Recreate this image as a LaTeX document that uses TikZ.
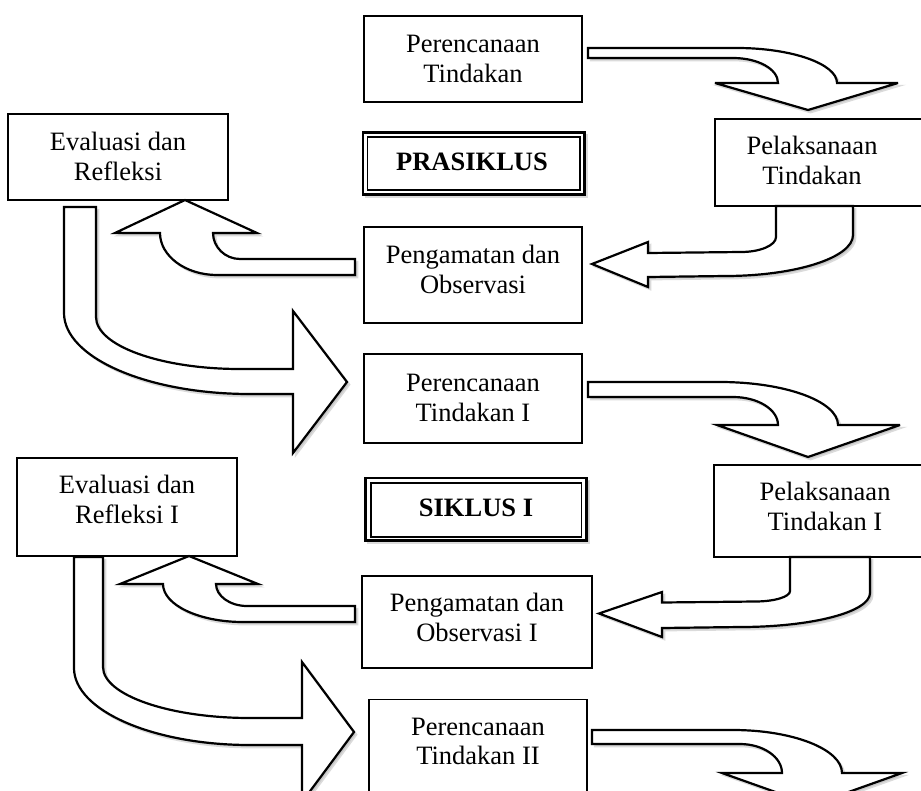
\documentclass[tikz,border=0pt]{standalone}
\usepackage{fontspec}
\setmainfont{Liberation Serif}
\usetikzlibrary{shadows}
\begin{document}
\begin{tikzpicture}[x=1pt,y=-1pt,
  box/.style={draw=black, line width=1.3pt, fill=white, rectangle, inner sep=0pt, outer sep=0pt, anchor=north west},
  txt/.style={inner sep=0pt, anchor=base, font=\fontsize{26.5}{30}\selectfont},
  btxt/.style={inner sep=0pt, anchor=base, font=\fontsize{26.5}{30}\selectfont\bfseries},
  shd/.style={drop shadow={shadow xshift=2.6pt, shadow yshift=-2.6pt, fill=black!22, draw=black!14, line width=1.6pt, opacity=1}},
  barrow/.style={draw=black, fill=white, line width=2.2pt, line join=miter, miter limit=6, shd},
  dblout/.style={box, line width=2.8pt, shd},
  dblin/.style={draw=black, line width=1.5pt}]
\useasboundingbox (0,0) rectangle (921,790);
\clip (0,0) rectangle (921,790);

% ---------- PRASIKLUS ----------
\node[box, minimum width=218pt, minimum height=86pt] (p0) at (364,16) {};
\node[txt] (p0a) at (473,52) {Perencanaan};
\node[txt] (p0b) at (473,82) {Tindakan};

\node[box, minimum width=220pt, minimum height=86pt] (e0) at (8,114) {};
\node[txt] (e0a) at (118,150) {Evaluasi dan};
\node[txt] (e0b) at (118,180) {Refleksi};

\node[box, minimum width=215pt, minimum height=87pt] (l0) at (715,119) {};
\node[txt] (l0a) at (812,154.3) {Pelaksanaan};
\node[txt] (l0b) at (812,184.3) {Tindakan};

\node[box, minimum width=218pt, minimum height=96pt] (g0) at (364,227) {};
\node[txt] (g0a) at (473,263.3) {Pengamatan dan};
\node[txt] (g0b) at (473,293.3) {Observasi};

\node[dblout, minimum width=221.3pt, minimum height=61.9pt] (pra) at (363,132.3) {};
\node[dblin, rectangle, inner sep=0pt, outer sep=0pt, anchor=north west, minimum width=212.5pt, minimum height=52.8pt] (prain) at (367.5,137) {};
\node[btxt] (prat) at (472,170) {PRASIKLUS};

% ---------- SIKLUS I ----------
\node[box, minimum width=218pt, minimum height=89pt] (p1) at (364,354) {};
\node[txt] (p1a) at (473,391) {Perencanaan};
\node[txt] (p1b) at (473,421) {Tindakan I};

\node[box, minimum width=220pt, minimum height=98pt] (e1) at (17,458) {};
\node[txt] (e1a) at (127,493.3) {Evaluasi dan};
\node[txt] (e1b) at (127,523.3) {Refleksi I};

\node[box, minimum width=221pt, minimum height=92pt] (l1) at (714,465) {};
\node[txt] (l1a) at (825,500) {Pelaksanaan};
\node[txt] (l1b) at (825,530) {Tindakan I};

\node[box, minimum width=230pt, minimum height=92pt] (g1) at (362,576) {};
\node[txt] (g1a) at (477,611) {Pengamatan dan};
\node[txt] (g1b) at (477,641.7) {Observasi I};

\node[dblout, minimum width=221.2pt, minimum height=62.5pt] (sik) at (365.5,478) {};
\node[dblin, rectangle, inner sep=0pt, outer sep=0pt, anchor=north west, minimum width=210.5pt, minimum height=53.6pt] (sikin) at (371,483.2) {};
\node[btxt] (sikt) at (476,516.5) {SIKLUS I};

% ---------- SIKLUS II ----------
\node[box, minimum width=218pt, minimum height=100.5pt] (p2) at (369,699.5) {};
\node[txt] (p2a) at (478,735) {Perencanaan};
\node[txt] (p2b) at (478,764) {Tindakan II};

% ---------- block arrows ----------
% Perencanaan -> Pelaksanaan
\path[barrow] (588,48) -- (737,48) .. controls (792,48) and (837,64) .. (837,83)
  -- (898,83) -- (808,110) -- (715,83) -- (778,83)
  .. controls (778,69) and (758,58) .. (733,58) -- (588,58) -- cycle;
% Pelaksanaan -> Pengamatan
\path[barrow] (776,206) -- (776,237) .. controls (776,245.3) and (760.3,252) .. (741,252)
  -- (648,253) -- (648,242) -- (592,264) -- (648,287) -- (648,277) -- (725,276)
  .. controls (795.7,276) and (853,257.6) .. (853,235) -- (853,206) -- cycle;
% Pengamatan -> Evaluasi
\path[barrow] (355,259) -- (240,259) .. controls (225,259) and (213,247) .. (213,233)
  -- (257,233) -- (185,200) -- (115,233) -- (160,233)
  .. controls (160,256) and (185.5,275) .. (217,275) -- (355,275) -- cycle;
% Evaluasi -> Perencanaan I
\path[barrow] (64,207) -- (64,313) .. controls (64,357.7) and (147.3,394) .. (250,394)
  -- (293,394) -- (293,453) -- (347,382) -- (293,311) -- (293,369) -- (240,369)
  .. controls (160.5,369) and (96,345.7) .. (96,317) -- (96,207) -- cycle;

% Perencanaan I -> Pelaksanaan I
\path[barrow] (588,382) -- (720,382) .. controls (785,382) and (838,401.3) .. (838,425)
  -- (900,425) -- (808,457) -- (717,425) -- (778,425)
  .. controls (778,409.5) and (758,397) .. (733,397) -- (588,397) -- cycle;
% Pelaksanaan I -> Pengamatan I
\path[barrow] (790,557) -- (790,591) .. controls (790,597) and (774,601.5) .. (755,601.5)
  -- (662,602.5) -- (662,592) -- (599,613.5) -- (662,637) -- (662,628) -- (740,627)
  .. controls (812,627) and (870,612) .. (870,593) -- (870,557) -- cycle;
% Pengamatan I -> Evaluasi I
\path[barrow] (355,606) -- (247,606) .. controls (230,606) and (216,596) .. (216,584)
  -- (258,584) -- (189,556) -- (120,584) -- (163,584)
  .. controls (163,605) and (199,622) .. (243,622) -- (355,622) -- cycle;
% Evaluasi I -> Perencanaan II
\path[barrow] (74,557) -- (74,668) .. controls (74,710.5) and (153,745) .. (250,745)
  -- (302,745) -- (302,802) -- (354,732) -- (302,662) -- (302,718) -- (250,718)
  .. controls (169,718) and (103,695) .. (103,667) -- (103,557) -- cycle;

% Perencanaan II -> (Pelaksanaan II)
\path[barrow] (592,730) -- (733,730) .. controls (793,730) and (842,749.3) .. (842,773)
  -- (902,773) -- (812,805) -- (722,773) -- (782,773)
  .. controls (782,757) and (763,744) .. (740,744) -- (592,744) -- cycle;
\end{tikzpicture}
\end{document}
